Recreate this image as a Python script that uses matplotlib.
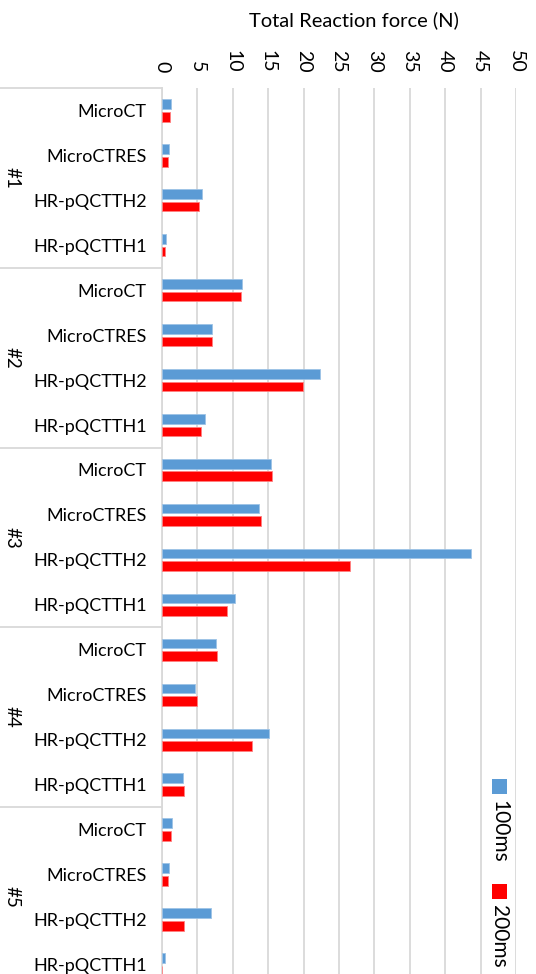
import matplotlib
matplotlib.use("Agg")
import matplotlib.pyplot as plt
import matplotlib.transforms as mtransforms
from matplotlib.patches import Rectangle
import numpy as np

plt.rcParams['font.family'] = ['Lato', 'DejaVu Sans']

groups = ["#1", "#2", "#3", "#4", "#5"]
samples = ["MicroCT", "MicroCTRES", "HR-pQCTTH2", "HR-pQCTTH1"]
series = ["100ms", "200ms"]
colors = ["#5B9BD5", "#FF0000"]

force_100ms = [1.33, 0.95, 5.65, 0.62,
               11.37, 7.07, 22.3, 6.08,
               15.42, 13.77, 43.7, 10.27,
               7.69, 4.72, 15.05, 3.02,
               1.47, 0.95, 6.93, 0.42]
force_200ms = [1.2, 0.9, 5.18, 0.42,
               11.13, 7.03, 19.9, 5.57,
               15.47, 14.0, 26.5, 9.14,
               7.83, 5.0, 12.78, 3.07,
               1.33, 0.9, 3.07, 0.0]

W, H = 536, 974
fig = plt.figure(figsize=(W / 100, H / 100), dpi=100)

# plot area in pixels (top-left origin)
left, right, top = 162, 516, 88
cat_h = 44.94
bottom = top + cat_h * len(groups) * len(samples)
ax = fig.add_axes([left / W, 1 - bottom / H, (right - left) / W, (bottom - top) / H])

n = len(force_100ms)
y = np.arange(n)
bh = 0.215
off = 0.14
ax.barh(y - off, force_100ms, height=bh, color=colors[0], edgecolor="#9dc3e6", linewidth=0.6, zorder=3)
ax.barh(y + off, force_200ms, height=bh, color=colors[1], edgecolor="#ff8080", linewidth=0.6, zorder=3)

ax.set_xlim(0, 50)
ax.set_ylim(n - 0.5, -0.5)
ax.set_xticks(np.arange(0, 51, 5))
ax.xaxis.tick_top()
ax.tick_params(axis="x", length=0, pad=11, labelsize=14, labelrotation=-90)
for lab in ax.get_xticklabels():
    lab.set_verticalalignment("bottom")
ax.grid(axis="x", color="#d9d9d9", linewidth=1.3, zorder=0)

ax.set_yticks(y)
ax.set_yticklabels(samples * len(groups))
ax.tick_params(axis="y", length=0, pad=11, labelsize=13)

for s in ["top", "right", "bottom"]:
    ax.spines[s].set_visible(False)
ax.spines["left"].set_color("#d9d9d9")
ax.spines["left"].set_linewidth(1.3)

# group separators and labels in the category area
trans = mtransforms.blended_transform_factory(ax.transAxes, ax.transData)
x0 = -left / (right - left)
for g, name in enumerate(groups):
    yb = g * len(samples) - 0.5
    ax.plot([x0, 0], [yb, yb], color="#d9d9d9", linewidth=1.3, transform=trans, clip_on=False)
    ax.text(x0 + 12 / (right - left), yb + len(samples) / 2, name, rotation=-90,
            ha="center", va="center", fontsize=13.5, transform=trans)

fig.text(354 / W, 1 - 20 / H, "Total Reaction force (N)",
         ha="center", va="center", fontsize=14.5)

# legend (rotated like the source)
lx = 492
for i, (name, yy) in enumerate(zip(series, [779, 884])):
    fig.patches.append(Rectangle((lx / W, 1 - (yy + 14.7) / H), 14.7 / W, 14.7 / H,
                                 transform=fig.transFigure, facecolor=colors[i], edgecolor="none"))
    fig.text((lx + 7) / W, 1 - (yy + 21) / H, name, rotation=-90, ha="center", va="top", fontsize=15)

fig.savefig("out.png", dpi=100)
